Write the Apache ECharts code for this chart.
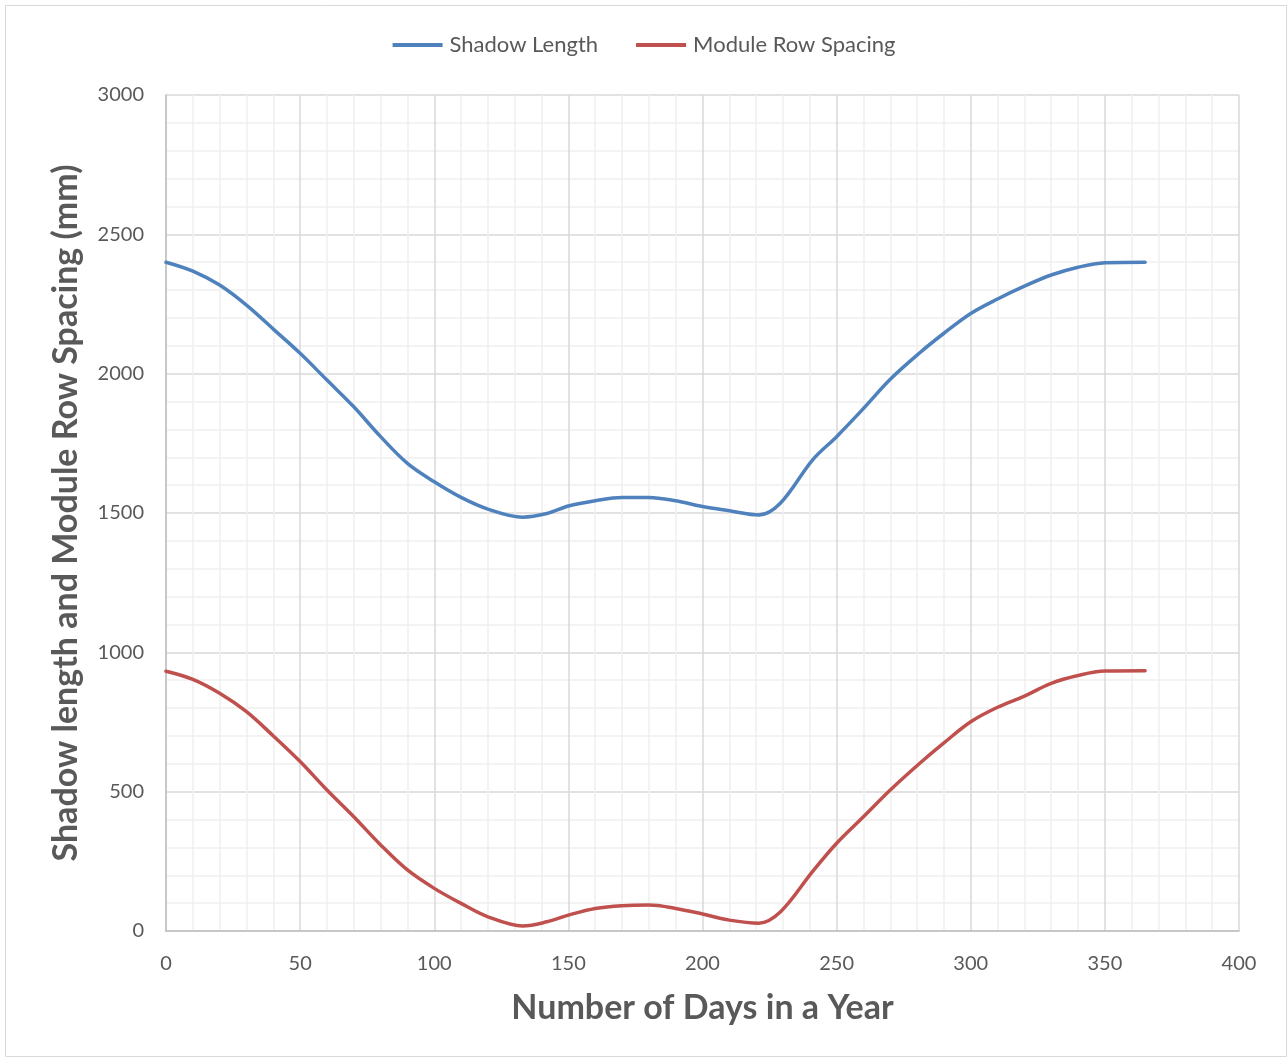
<!DOCTYPE html>
<html>
<head>
<meta charset="utf-8">
<script src="https://cdn.jsdelivr.net/npm/echarts@6/dist/echarts.min.js"></script>
<style>
  html, body { margin: 0; padding: 0; background: #ffffff; }
  #chart { width: 1288px; height: 1057px; }
</style>
</head>
<body>
<div id="chart"></div>
<script>
// Day of year at which each value was computed
const days = [0, 10, 20, 30, 40, 50, 60, 70, 80, 90, 100, 110, 120, 133, 142, 150, 160, 170, 180,
  190, 200, 210, 221, 229, 241, 250, 260, 270, 281, 290, 300, 310, 320, 330, 340, 350, 365];

// Shadow length (mm)
const shadowLength = [2400, 2368, 2318, 2246, 2160, 2073, 1977, 1881, 1774, 1678, 1612, 1556, 1514,
  1485, 1498, 1525, 1544, 1556, 1556, 1544, 1523, 1508, 1493, 1535, 1690, 1774, 1875, 1980, 2075,
  2145, 2216, 2268, 2314, 2354, 2382, 2398, 2400];

// Module row spacing (mm)
const rowSpacing = [932, 903, 853, 787, 700, 608, 506, 410, 309, 219, 153, 99, 51, 18, 33, 57, 81,
  91, 93, 81, 61, 39, 28, 68, 213, 315, 410, 506, 602, 675, 751, 803, 843, 889, 917, 933, 934];

const seriesNames = ['Shadow Length', 'Module Row Spacing'];
const xTitle = 'Number of Days in a Year';
const yTitle = 'Shadow length and Module Row Spacing (mm)';

const pairs = (vals) => days.map((d, i) => [d, vals[i]]);

const textColor = '#595959';
const font = 'Lato, "Open Sans", sans-serif';

const chart = echarts.init(document.getElementById('chart'), null, { renderer: 'canvas' });

chart.setOption({
  backgroundColor: '#ffffff',
  animation: false,
  graphic: [{
    type: 'rect',
    left: 3, top: 3,
    shape: { width: 1281, height: 1051 },
    style: { fill: 'none', stroke: '#d9d9d9', lineWidth: 1 },
    silent: true
  }],
  legend: {
    top: 29,
    left: 'center',
    itemWidth: 50,
    itemHeight: 4,
    itemGap: 38,
    icon: 'rect',
    textStyle: { color: textColor, fontSize: 22, fontFamily: font, padding: [0, 0, 0, 2] },
    data: seriesNames
  },
  grid: { left: 166, right: 49, top: 95, bottom: 126, containLabel: false },
  xAxis: {
    type: 'value',
    min: 0, max: 400, interval: 50,
    name: xTitle,
    nameLocation: 'middle',
    nameGap: 60,
    nameTextStyle: { color: textColor, fontSize: 34, fontWeight: 'bold', fontFamily: font },
    axisLine: { show: true, lineStyle: { color: '#bfbfbf', width: 1.5 } },
    axisTick: { show: false },
    axisLabel: { color: textColor, fontSize: 20, fontFamily: font, margin: 23 },
    splitLine: { show: true, lineStyle: { color: '#d9d9d9', width: 1.5 } },
    minorTick: { show: false, splitNumber: 5 },
    minorSplitLine: { show: true, lineStyle: { color: '#f0f0f0', width: 1.5 } }
  },
  yAxis: {
    type: 'value',
    min: 0, max: 3000, interval: 500,
    name: yTitle,
    nameLocation: 'middle',
    nameGap: 83,
    nameTextStyle: { color: textColor, fontSize: 34, fontWeight: 'bold', fontFamily: font },
    axisLine: { show: true, lineStyle: { color: '#bfbfbf', width: 1.5 } },
    axisTick: { show: false },
    axisLabel: { color: textColor, fontSize: 20, fontFamily: font, margin: 22, formatter: (v) => String(v) },
    splitLine: { show: true, lineStyle: { color: '#d9d9d9', width: 1.5 } },
    minorTick: { show: false, splitNumber: 5 },
    minorSplitLine: { show: true, lineStyle: { color: '#f0f0f0', width: 1.5 } }
  },
  series: [
    {
      name: seriesNames[0],
      type: 'line',
      data: pairs(shadowLength),
      smooth: 0.35,
      showSymbol: false,
      symbol: 'none',
      lineStyle: { color: '#4f81bd', width: 3.5, cap: 'round' },
      itemStyle: { color: '#4f81bd' }
    },
    {
      name: seriesNames[1],
      type: 'line',
      data: pairs(rowSpacing),
      smooth: 0.35,
      showSymbol: false,
      symbol: 'none',
      lineStyle: { color: '#c0504d', width: 3.5, cap: 'round' },
      itemStyle: { color: '#c0504d' }
    }
  ]
});
</script>
</body>
</html>
